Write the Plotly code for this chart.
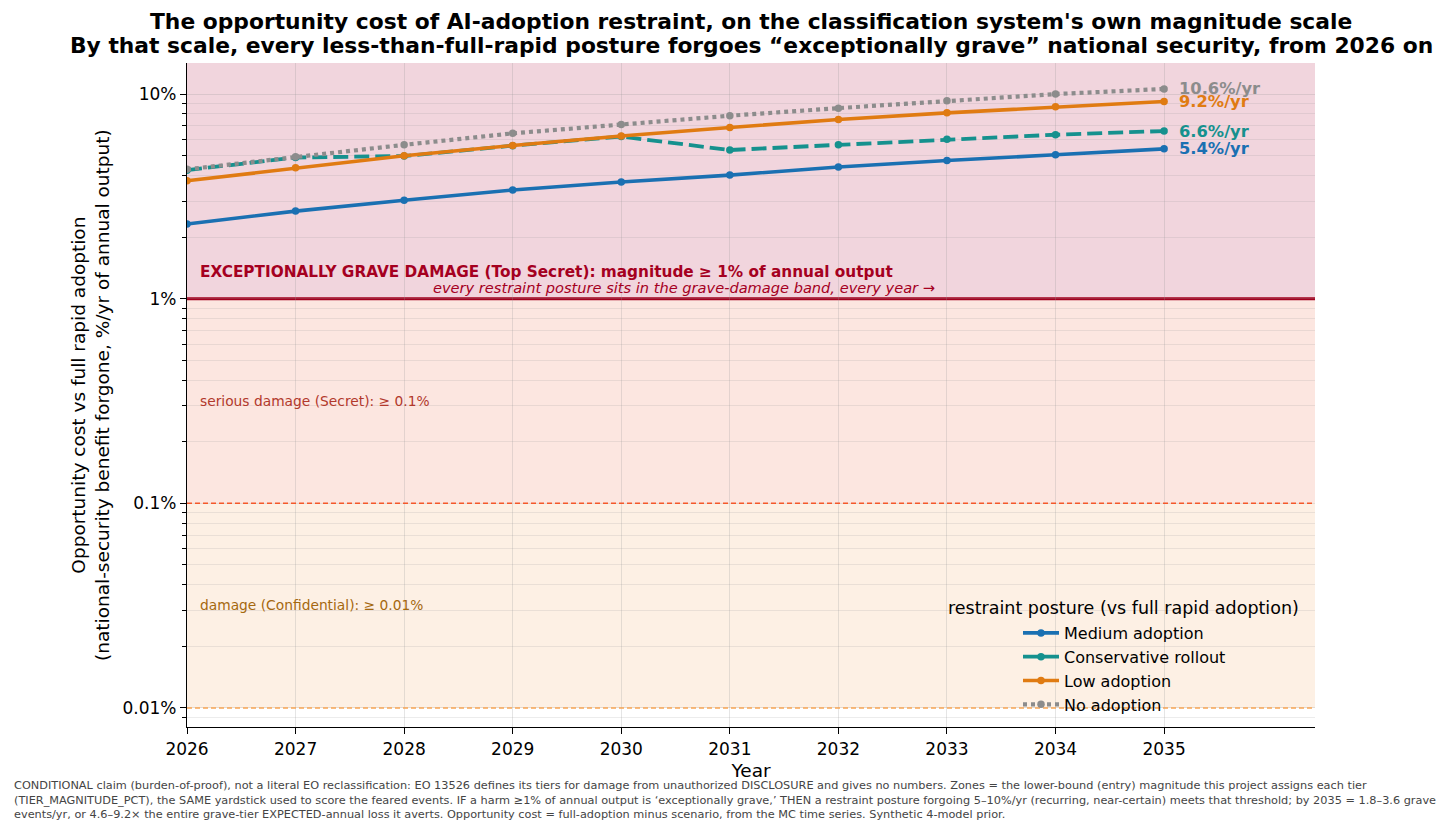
import math
import plotly.graph_objects as go

# ---------------- data ----------------
years = [2026, 2027, 2028, 2029, 2030, 2031, 2032, 2033, 2034, 2035]
medium_adoption = [2.32, 2.68, 3.03, 3.40, 3.72, 4.02, 4.40, 4.74, 5.05, 5.40]
conservative_rollout = [4.25, 4.90, 4.98, 5.60, 6.20, 5.33, 5.65, 6.01, 6.33, 6.60]
low_adoption = [3.77, 4.36, 5.00, 5.61, 6.24, 6.87, 7.52, 8.10, 8.67, 9.20]
no_adoption = [4.29, 4.94, 5.65, 6.43, 7.11, 7.84, 8.54, 9.27, 10.0, 10.60]

series_names = ["Medium adoption", "Conservative rollout", "Low adoption", "No adoption"]
end_labels = ["5.4%/yr", "6.6%/yr", "9.2%/yr", "10.6%/yr"]

tier_thresholds = [1.0, 0.1, 0.01]  # % of annual output
tier_labels = [
    "EXCEPTIONALLY GRAVE DAMAGE (Top Secret): magnitude ≥ 1% of annual output",
    "serious damage (Secret): ≥ 0.1%",
    "damage (Confidential): ≥ 0.01%",
]
y_tick_vals = [0.01, 0.1, 1, 10]
y_tick_text = ["0.01%", "0.1%", "1%", "10%"]

# ---------------- styles ----------------
FONT = "DejaVu Sans"
colors = ["#1a70b2", "#15918e", "#e07b12", "#8c8c8c"]
dashes = ["solid", "15px,6px", "solid", "4px,4px"]
widths = [3.6, 3.8, 3.6, 4.2]
band_colors = ["#f1d5dd", "#fce6e0", "#fdf0e4"]
line_colors = ["#a3001e", "#f4582a", "#f9a656"]
tier_text_colors = ["#a5001f", "#b2392c", "#a5680f"]

series = [medium_adoption, conservative_rollout, low_adoption, no_adoption]

fig = go.Figure()
for name, vals, c, d, w in zip(series_names, series, colors, dashes, widths):
    fig.add_trace(go.Scatter(
        x=years, y=vals, name=name, mode="lines+markers",
        line=dict(color=c, width=w, dash=d),
        marker=dict(color=c, size=7.5),
    ))

YMIN_LOG, YMAX_LOG = -2.093, 1.152
XMIN, XMAX = 2026, 2036.39

shapes = []
# bands (shape coordinates are in data units on this log axis)
tops = [10 ** YMAX_LOG] + tier_thresholds[:-1]
for top, bot, bc in zip(tops, tier_thresholds, band_colors):
    shapes.append(dict(type="rect", xref="paper", yref="y", x0=0, x1=1,
                       y0=bot, y1=top,
                       fillcolor=bc, line=dict(width=0), layer="below"))
# threshold lines
for i, (thr, lc) in enumerate(zip(tier_thresholds, line_colors)):
    shapes.append(dict(type="line", xref="paper", yref="y", x0=0, x1=1,
                       y0=thr, y1=thr,
                       line=dict(color=lc, width=3 if i == 0 else 1.5,
                                 dash="solid" if i == 0 else "5px,3px"),
                       layer="between" if i == 0 else "above"))

annotations = []
# title
annotations.append(dict(xref="paper", yref="paper", x=0.5, y=(727 - 21) / 664,
                        text="<b>The opportunity cost of AI-adoption restraint, on the classification system's own magnitude scale</b>",
                        showarrow=False, xanchor="center", yanchor="middle",
                        font=dict(family=FONT, size=21.8, color="black")))
annotations.append(dict(xref="paper", yref="paper", x=0.5, y=(727 - 45) / 664,
                        text="<b>By that scale, every less-than-full-rapid posture forgoes “exceptionally grave” national security, from 2026 on</b>",
                        showarrow=False, xanchor="center", yanchor="middle",
                        font=dict(family=FONT, size=21.8, color="black")))
# tier labels (annotation coordinates are log10 on this log axis)
annotations.append(dict(xref="paper", yref="y", x=(198 - 187) / 1128, y=math.log10(tier_thresholds[0]),
                        yshift=16, text="<b>" + tier_labels[0] + "</b>", showarrow=False,
                        xanchor="left", yanchor="bottom",
                        font=dict(family=FONT, size=15.3, color=tier_text_colors[0])))
annotations.append(dict(xref="paper", yref="y", x=(937 - 187) / 1128, y=math.log10(tier_thresholds[0]),
                        yshift=1, text="<i>every restraint posture sits in the grave-damage band, every year →</i>",
                        showarrow=False, xanchor="right", yanchor="bottom",
                        font=dict(family=FONT, size=14.6, color=tier_text_colors[0])))
for k in (1, 2):
    annotations.append(dict(xref="paper", yref="y", x=(198 - 187) / 1128,
                            y=math.log10(tier_thresholds[k - 1]), yshift=-102,
                            text=tier_labels[k], showarrow=False,
                            xanchor="left", yanchor="middle",
                            font=dict(family=FONT, size=13.8, color=tier_text_colors[k])))
# end labels
for vals, lab, c in zip(series, end_labels, colors):
    annotations.append(dict(xref="x", yref="y", x=years[-1], y=math.log10(vals[-1]),
                            xshift=13, text="<b>" + lab + "</b>", showarrow=False,
                            xanchor="left", yanchor="middle",
                            font=dict(family=FONT, size=16.3, color=c)))
# y-axis title
annotations.append(dict(xref="paper", yref="paper", x=(90 - 187) / 1128, y=0.5,
                        text="Opportunity cost vs full rapid adoption<br>(national-security benefit forgone, %/yr of annual output)",
                        textangle=-90, showarrow=False, xanchor="center", yanchor="middle",
                        font=dict(family=FONT, size=18.5, color="black")))
# legend title
annotations.append(dict(xref="paper", yref="paper", x=(1123 - 187) / 1128, y=(727 - 608) / 664,
                        text="restraint posture (vs full rapid adoption)", showarrow=False,
                        xanchor="center", yanchor="middle",
                        font=dict(family=FONT, size=17.5, color="black")))
# footer
annotations.append(dict(xref="paper", yref="paper", x=(12 - 187) / 1128, y=(727 - 777) / 664,
                        text=("CONDITIONAL claim (burden-of-proof), not a literal EO reclassification: EO 13526 defines its tiers for damage from unauthorized DISCLOSURE and gives no numbers. Zones = the lower-bound (entry) magnitude this project assigns each tier<br>"
                              "(TIER_MAGNITUDE_PCT), the SAME yardstick used to score the feared events. IF a harm ≥1% of annual output is ‘exceptionally grave,’ THEN a restraint posture forgoing 5–10%/yr (recurring, near-certain) meets that threshold; by 2035 = 1.8–3.6 grave<br>"
                              "events/yr, or 4.6–9.2× the entire grave-tier EXPECTED-annual loss it averts. Opportunity cost = full-adoption minus scenario, from the MC time series. Synthetic 4-model prior."),
                        showarrow=False, xanchor="left", yanchor="top", align="left",
                        font=dict(family=FONT, size=11.3, color="#444444")))

minor_vals = [k * 10 ** e for e in range(-3, 2) for k in range(2, 10)
              if YMIN_LOG <= math.log10(k * 10 ** e) <= YMAX_LOG]

GRID = "rgba(150,150,150,0.25)"
fig.update_layout(
    width=1456, height=830,
    margin=dict(l=187, r=141, t=63, b=103),
    paper_bgcolor="white", plot_bgcolor="white",
    font=dict(family=FONT, color="black"),
    shapes=shapes, annotations=annotations,
    showlegend=True,
    legend=dict(x=(1018 - 187) / 1128, y=(727 - 616) / 664, xanchor="left", yanchor="top",
                bgcolor="rgba(0,0,0,0)", font=dict(family=FONT, size=16),
                tracegroupgap=0, itemwidth=36),
    xaxis=dict(range=[XMIN, XMAX], tickmode="array", tickvals=years,
               ticks="outside", ticklen=6, tickwidth=1.2, tickcolor="black",
               showline=True, linecolor="black", linewidth=1.3, mirror=False,
               showgrid=True, gridcolor=GRID, gridwidth=1, zeroline=False,
               tickfont=dict(family=FONT, size=17),
               title=dict(text="Year", font=dict(family=FONT, size=18.5), standoff=6)),
    yaxis=dict(type="log", range=[YMIN_LOG, YMAX_LOG], tickmode="array",
               tickvals=y_tick_vals, ticktext=y_tick_text,
               ticks="outside", ticklen=6, tickwidth=1.2, tickcolor="black",
               showline=True, linecolor="black", linewidth=1.3, mirror=False,
               showgrid=True, gridcolor=GRID, gridwidth=1, zeroline=False,
               tickfont=dict(family=FONT, size=17),
               minor=dict(tickmode="array", tickvals=minor_vals, ticks="outside",
                          ticklen=3.5, tickwidth=1, tickcolor="black",
                          showgrid=True, gridcolor="rgba(150,150,150,0.18)", gridwidth=1)),
)

fig.write_html("out.html")
